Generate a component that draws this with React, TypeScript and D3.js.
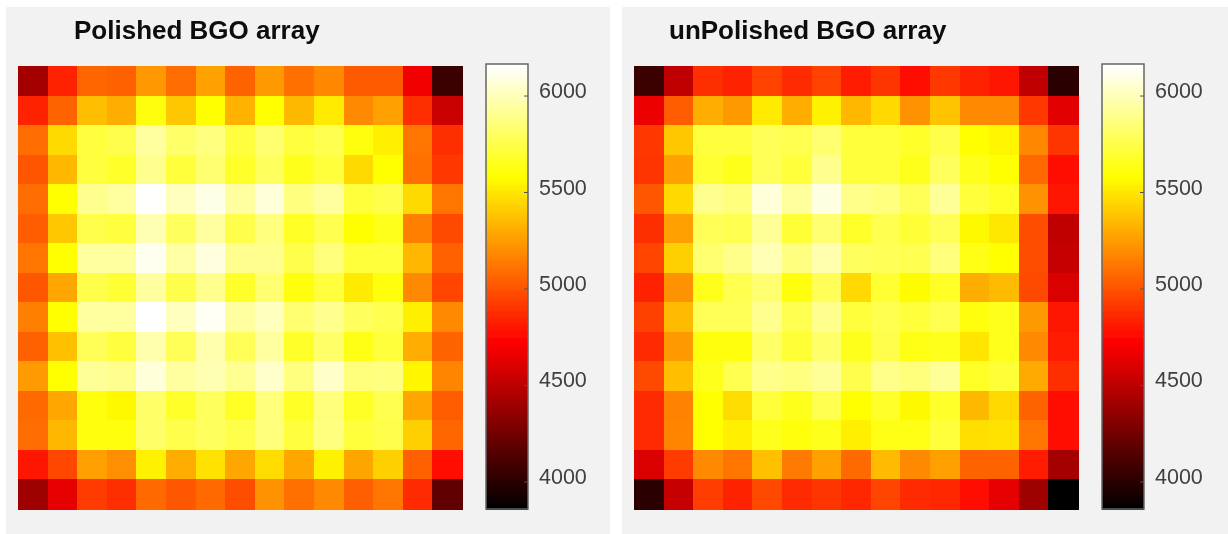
import React from "react";
import * as d3 from "d3";

const polished: number[][] = [
  [4420,4840,5070,5050,5240,5090,5275,5060,5245,5100,5185,5030,5030,4680,4060],
  [4840,5060,5373,5310,5610,5400,5590,5330,5590,5350,5520,5190,5265,4885,4550],
  [5090,5465,5730,5760,5950,5830,5880,5730,5840,5730,5770,5620,5540,5120,4885],
  [5010,5345,5725,5690,5910,5720,5840,5690,5800,5650,5720,5465,5590,5100,4910],
  [5090,5590,5910,5950,6160,6020,6110,5950,6080,5880,5950,5720,5760,5465,5120],
  [5040,5400,5760,5730,5990,5800,5950,5760,5880,5680,5770,5595,5650,5155,4970],
  [5120,5600,5950,5950,6130,5960,6090,5910,5910,5760,5870,5720,5720,5345,5055],
  [5020,5290,5760,5710,5950,5760,5910,5690,5840,5610,5720,5520,5610,5190,4960],
  [5155,5600,5950,5950,6166,6020,6140,5950,6020,5840,5910,5800,5770,5540,5190],
  [5055,5375,5790,5730,5980,5790,5980,5790,5950,5690,5830,5640,5720,5310,5065],
  [5250,5600,5930,5910,6080,5950,5990,5920,6050,5880,6040,5870,5880,5560,5175],
  [5080,5290,5620,5570,5830,5690,5800,5680,5870,5680,5870,5680,5770,5290,5035],
  [5090,5345,5610,5620,5830,5760,5800,5760,5870,5730,5880,5720,5760,5430,5070],
  [4810,4965,5265,5210,5545,5310,5490,5290,5470,5290,5545,5285,5430,5050,4780],
  [4400,4640,4925,4885,5080,5020,5080,4990,5220,5105,5190,5045,5120,4870,4190],
];

const unpolished: number[][] = [
  [4060,4510,4885,4840,4950,4870,4950,4830,4900,4780,4910,4835,4790,4510,4000],
  [4660,5035,5310,5245,5520,5310,5545,5345,5460,5220,5385,5190,5190,4910,4630],
  [4910,5400,5730,5730,5790,5770,5840,5720,5720,5690,5760,5600,5555,5185,4900],
  [4900,5275,5700,5650,5790,5720,5910,5720,5720,5650,5800,5650,5590,5080,4780],
  [5020,5460,5910,5870,6080,5940,6100,5900,5880,5790,5930,5720,5680,5220,4790],
  [4885,5265,5790,5770,5930,5710,5840,5690,5770,5710,5790,5570,5510,4990,4510],
  [4955,5430,5840,5900,6000,5880,5980,5800,5790,5770,5870,5640,5590,4990,4530],
  [4840,5220,5650,5770,5840,5620,5790,5460,5700,5580,5680,5310,5360,4970,4600],
  [4945,5360,5790,5790,5910,5770,5910,5720,5770,5720,5770,5610,5650,5245,4790],
  [4870,5245,5610,5610,5830,5710,5830,5650,5760,5640,5650,5500,5650,5190,4815],
  [4970,5370,5650,5770,5900,5880,5930,5760,5900,5870,5930,5680,5710,5300,4885],
  [4870,5165,5590,5470,5720,5660,5770,5600,5690,5570,5690,5350,5460,5060,4770],
  [4870,5175,5590,5540,5650,5610,5650,5540,5640,5640,5720,5480,5490,5120,4780],
  [4600,4925,5190,5120,5375,5140,5275,5085,5360,5190,5265,5060,5065,4830,4420],
  [4000,4530,4930,4840,4970,4870,4900,4860,4955,4870,4860,4770,4640,4400,3860],
];

const colorbarTicks = [4000, 4500, 5000, 5500, 6000];
const valueDomain = [3860, 6166];
const hotStops = ["#000000", "#ff0000", "#ffff00", "#ffffff"];
const hotPositions = [0, 0.375, 0.75, 1];
const titles = ["Polished BGO array", "unPolished BGO array"];

const span = valueDomain[1] - valueDomain[0];
const hot = d3
  .scaleLinear<string>()
  .domain(hotPositions.map((p) => valueDomain[0] + p * span))
  .range(hotStops)
  .clamp(true);

const indices = d3.range(15);
const cbLevels = d3.range(0, 256).map((i) => valueDomain[0] + (i / 255) * span);

function Panel({ ox, panelX, panelW, title, titleX, data }: { ox: number; panelX: number; panelW: number; title: string; titleX: number; data: number[][] }) {
  const x = d3.scaleBand<number>().domain(indices).range([ox + 18, ox + 462]);
  const y = d3.scaleBand<number>().domain(indices).range([66, 509]);
  const cbX0 = ox + 486;
  const cbW = 42;
  const cbY = d3.scaleLinear().domain(valueDomain).range([509, 64]);
  const band = d3.scaleBand<number>().domain(d3.range(256)).range([509, 64]);
  return (
    <g>
      <rect x={panelX} y={7} width={panelW} height={527} fill="#f2f2f2" />
      <text x={titleX} y={39} fontFamily="'Liberation Sans', Arial, sans-serif" fontWeight="bold" fontSize={26} fill="#0c0c0c">
        {title}
      </text>
      <g shapeRendering="crispEdges">
        {data.map((row, r) =>
          row.map((v, c) => (
            <rect key={`${r}-${c}`} x={x(c)} y={y(r)} width={x.bandwidth() + 0.5} height={y.bandwidth() + 0.5} fill={hot(v)} />
          ))
        )}
        {cbLevels.map((v, i) => (
          <rect key={i} x={cbX0} y={band(i)} width={cbW} height={band.bandwidth() + 0.6} fill={hot(v)} />
        ))}
      </g>
      <rect x={cbX0} y={64} width={cbW} height={445} fill="none" stroke="#666666" strokeWidth={1.5} />
      {colorbarTicks.map((t) => (
        <g key={t}>
          <line x1={cbX0 + cbW - 4} x2={cbX0 + cbW} y1={cbY(t)} y2={cbY(t)} stroke="#555" strokeWidth={1} />
          <text x={ox + 539} y={cbY(t) - 5} dominantBaseline="central" fontFamily="'Liberation Sans', Arial, sans-serif" fontSize={21.5} fill="#404040">
            {t}
          </text>
        </g>
      ))}
    </g>
  );
}

export default function App() {
  return (
    <svg width={1228} height={534} style={{ position: "fixed", left: 0, top: 0, display: "block", background: "#fff" }}>
      <defs>
        <filter id="soft" x="0" y="0" width="100%" height="100%">
          <feGaussianBlur stdDeviation="0.5" />
        </filter>
      </defs>
      <g filter="url(#soft)">
        <Panel ox={0} panelX={6} panelW={604} title={titles[0]} titleX={74} data={polished} />
        <Panel ox={616} panelX={622} panelW={606} title={titles[1]} titleX={669} data={unpolished} />
      </g>
    </svg>
  );
}
